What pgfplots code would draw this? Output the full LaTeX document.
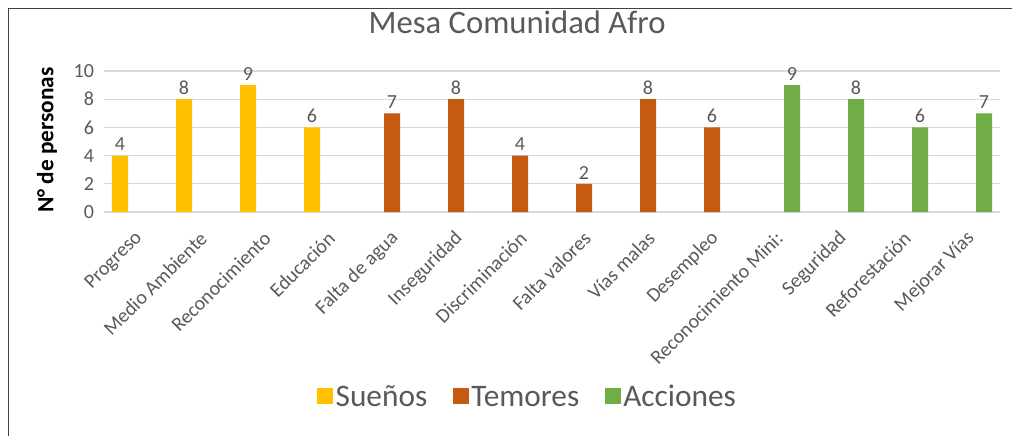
\documentclass[border=0pt]{standalone}
\usepackage{fontspec}
\setmainfont{Carlito}
\usepackage{pgfplots}
\pgfplotsset{compat=1.18}
\definecolor{suenos}{HTML}{FFC000}
\definecolor{temores}{HTML}{C55A11}
\definecolor{acciones}{HTML}{70AD47}
\definecolor{gridgray}{HTML}{D9D9D9}
\definecolor{txtgray}{HTML}{595959}
\definecolor{framegray}{HTML}{404040}

\begin{document}
\begin{tikzpicture}
  % 1 px of the reference = 0.75pt, origin = lower left corner of the plot area
  \useasboundingbox (-78pt,-167.25pt) rectangle (681pt,159pt);
  \draw[framegray, line width=0.9pt] (-71.6pt,-170pt) -- (-71.6pt,152.6pt) -- (690pt,152.6pt);
  \begin{axis}[
      at={(0,0)}, anchor=south west,
      scale only axis, width=672pt, height=105.75pt,
      ybar, bar width=0.25,
      xmin=-0.5, xmax=13.5, ymin=0, ymax=10,
      enlargelimits=false,
      axis lines*=left,
      x axis line style={-, draw=gridgray, line width=0.9pt},
      y axis line style={draw=none},
      major tick length=0pt, tick style={draw=none},
      ymajorgrids, grid style={draw=gridgray, line width=0.9pt},
      ytick={0,2,...,10},
      xtick={0,...,13},
      xticklabels={Progreso, Medio Ambiente, Reconocimiento, Educación,
        Falta de agua, Inseguridad, Discriminación, Falta valores, Vías malas,
        Desempleo, Reconocimiento Mini:, Seguridad, Reforestación, Mejorar Vías},
      /pgf/number format/assume math mode=true,
      yticklabel style={font=\fontsize{15}{18}\selectfont, text=txtgray, xshift=-4pt},
      xticklabel style={font=\fontsize{15}{18}\selectfont, text=txtgray,
        xshift=5pt, yshift=-15pt, rotate=45, anchor=east},
      ylabel={\textbf{N° de personas}},
      ylabel style={font=\fontsize{17.5}{20}\selectfont, at={(axis description cs:-0.0636,0.51)}, anchor=center},
      title={Mesa Comunidad Afro},
      title style={font=\fontsize{24.5}{28}\selectfont, text=txtgray,
        at={(axis description cs:0.461,1.29)}, anchor=center},
      nodes near coords,
      every node near coord/.append style={font=\fontsize{15}{17}\selectfont, text=txtgray},
      legend columns=3,
      legend style={draw=none, fill=none, at={(axis description cs:0.473,-1.312)}, anchor=center,
        font=\fontsize{23.5}{28}\selectfont, text=txtgray,
        /tikz/every even column/.append style={column sep=17pt}},
      legend image code/.code={\fill[#1] (0pt,-5pt) rectangle (12pt,7pt);},
    ]
    \addplot[fill=suenos, draw=none, bar shift=-0.25] coordinates {
      (0,4) (1,8) (2,9) (3,6)};
    \addplot[fill=temores, draw=none, bar shift=0] coordinates {
      (4,7) (5,8) (6,4) (7,2) (8,8) (9,6)};
    \addplot[fill=acciones, draw=none, bar shift=0.25] coordinates {
      (10,9) (11,8) (12,6) (13,7)};
    \legend{Sueños, Temores, Acciones}
  \end{axis}
\end{tikzpicture}
\end{document}
